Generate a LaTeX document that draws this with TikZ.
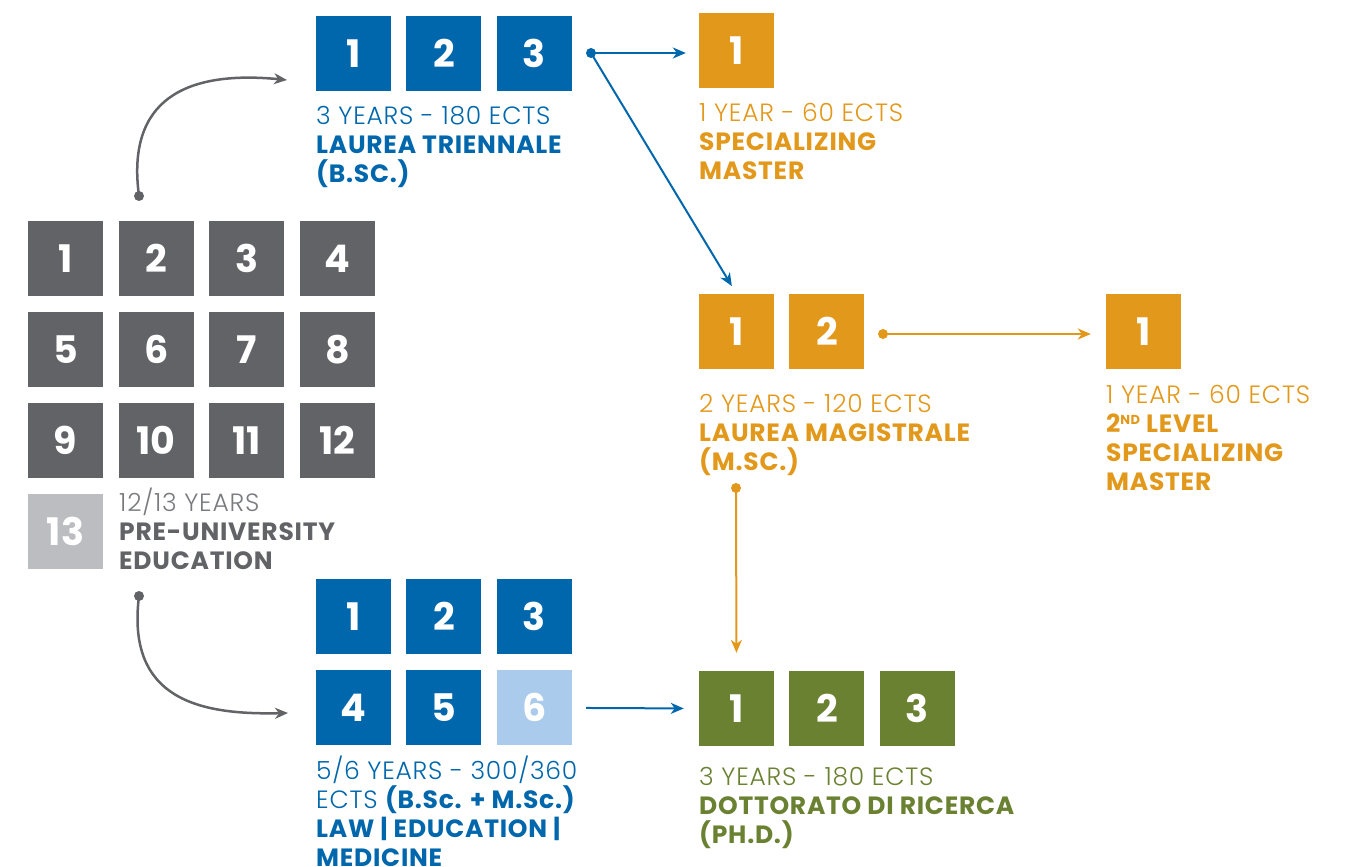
\documentclass[tikz,border=0pt]{standalone}
\usepackage{fontspec}
\setmainfont{Poppins}[LetterSpace=3]
\newfontfamily\lightfont{Poppins Light}[LetterSpace=3]
\newfontfamily\digitfont{Poppins Bold}
\usetikzlibrary{arrows.meta}
\usetikzlibrary{positioning}
\definecolor{UniBlue}{HTML}{0067AC}
\definecolor{PaleBlue}{HTML}{AACBEB}
\definecolor{UniOrange}{HTML}{E2981A}
\definecolor{UniGreen}{HTML}{6A8132}
\definecolor{DarkGrey}{HTML}{626366}
\definecolor{PaleGrey}{HTML}{BCBDC0}
\definecolor{TextGrey}{HTML}{7A7B7E}

\tikzset{
  yearbox/.style={minimum size=75pt, inner sep=0pt, text=white,
    font=\fontsize{38}{38}\selectfont\digitfont},
  caption/.style={anchor=base west, inner sep=0pt, align=left,
    font=\fontsize{25}{29}\selectfont},
  flow/.style={-{Stealth[length=13pt,width=11pt,inset=4pt]}, line width=2pt},
  dot/.style={circle, fill, inner sep=0pt, minimum size=10pt}
}

\begin{document}
\begin{tikzpicture}[x=1pt, y=-1pt]
\useasboundingbox (0,0) rectangle (1347,867);

% pre-university years
\def \gridX {90.7}
\def \gridY {91}
\foreach \n in {1,...,12} {
  \pgfmathtruncatemacro{\col}{mod(\n-1,4)}
  \pgfmathtruncatemacro{\row}{(\n-1)/4}
  \node[yearbox, fill=DarkGrey] (school\n) at (65.5+\col*\gridX, 258.5+\row*\gridY) {\n};
}
\node[yearbox, fill=PaleGrey] (school13) at (65.5, 531.5) {13};
% captions sit on the baseline of their last line
\node[caption, text=DarkGrey] (schooltxt) at (119, 569)
  {{\lightfont\color{TextGrey}12/13 YEARS}\\ \bfseries PRE-UNIVERSITY\\ \bfseries EDUCATION};

% laurea triennale
\node[yearbox, fill=UniBlue] (bsc1) at (353.5, 53.5) {1};
\node[yearbox, fill=UniBlue, right=15pt of bsc1] (bsc2) {2};
\node[yearbox, fill=UniBlue, right=15pt of bsc2] (bsc3) {3};
\node[caption, text=UniBlue] (bsctxt) at (316, 182)
  {{\lightfont 3 YEARS - 180 ECTS}\\ \bfseries LAUREA TRIENNALE\\ \bfseries (B.SC.)};

% single cycle
\node[yearbox, fill=UniBlue] (cyc1) at (353.5, 616.5) {1};
\node[yearbox, fill=UniBlue, right=15pt of cyc1] (cyc2) {2};
\node[yearbox, fill=UniBlue, right=15pt of cyc2] (cyc3) {3};
\node[yearbox, fill=UniBlue, below=16pt of cyc1] (cyc4) {4};
\node[yearbox, fill=UniBlue, right=15pt of cyc4] (cyc5) {5};
\node[yearbox, fill=PaleBlue, right=15pt of cyc5] (cyc6) {6};
\node[caption, text=UniBlue] (cyctxt) at (316, 866)
  {{\lightfont 5/6 YEARS - 300/360}\\ {\lightfont ECTS} \bfseries (B.Sc. + M.Sc.)\\
   \bfseries LAW | EDUCATION |\\ \bfseries MEDICINE};

% specializing master
\node[yearbox, fill=UniOrange] (spm1) at (736.5, 50.5) {1};
\node[caption, text=UniOrange] (spmtxt) at (699, 179)
  {{\lightfont 1 YEAR - 60 ECTS}\\ \bfseries SPECIALIZING\\ \bfseries MASTER};

% laurea magistrale
\node[yearbox, fill=UniOrange] (msc1) at (736.5, 331.5) {1};
\node[yearbox, fill=UniOrange, right=15pt of msc1] (msc2) {2};
\node[caption, text=UniOrange] (msctxt) at (699, 470)
  {{\lightfont 2 YEARS - 120 ECTS}\\ \bfseries LAUREA MAGISTRALE\\ \bfseries (M.SC.)};

% 2nd level master
\node[yearbox, fill=UniOrange] (lvl1) at (1143.5, 331.5) {1};
\node[caption, text=UniOrange] (lvltxt) at (1106, 490)
  {{\lightfont 1 YEAR - 60 ECTS}\\ \bfseries 2\raisebox{8pt}{\fontsize{13}{13}\selectfont ND} LEVEL\\
   \bfseries SPECIALIZING\\ \bfseries MASTER};

% dottorato
\node[yearbox, fill=UniGreen] (phd1) at (736.5, 708.5) {1};
\node[yearbox, fill=UniGreen, right=15pt of phd1] (phd2) {2};
\node[yearbox, fill=UniGreen, right=15pt of phd2] (phd3) {3};
\node[caption, text=UniGreen] (phdtxt) at (699, 843)
  {{\lightfont 3 YEARS - 180 ECTS}\\ \bfseries DOTTORATO DI RICERCA\\ \bfseries (PH.D.)};

% dots
\node[dot, DarkGrey] (schooltop) at (139, 196) {};
\node[dot, DarkGrey] (schoolbot) at (139, 596) {};
\node[dot, UniBlue] (bscdot) at (591, 53) {};
\node[dot, UniOrange] (mscdot) at (883, 334) {};
\node[dot, UniOrange] (mscdown) at (736, 488) {};
\coordinate (bscin) at (287, 80);
\coordinate (cycin) at (288, 713);

% arrows
\draw[flow, DarkGrey, line width=2.5pt] (schooltop.center) .. controls (126,100) and (185,70) .. (bscin);
\draw[flow, DarkGrey, line width=2.5pt] (schoolbot.center) .. controls (126,700) and (200,715) .. (cycin);
\draw[flow, UniBlue, shorten >=13pt] (bscdot.center) -- (bscdot.center -| spm1.west);
\draw[flow, UniBlue, shorten >=9pt] (bscdot.center) -- (msc1.north);
\draw[flow, UniOrange, shorten >=15pt] (mscdot.center) -- (mscdot.center -| lvl1.west);
\draw[flow, UniOrange, shorten >=18pt] (mscdown.center) -- (phd1.north);
\draw[flow, UniBlue, shorten <=14pt, shorten >=15pt] (cyc6.east) -- (phd1.west);

\end{tikzpicture}
\end{document}
